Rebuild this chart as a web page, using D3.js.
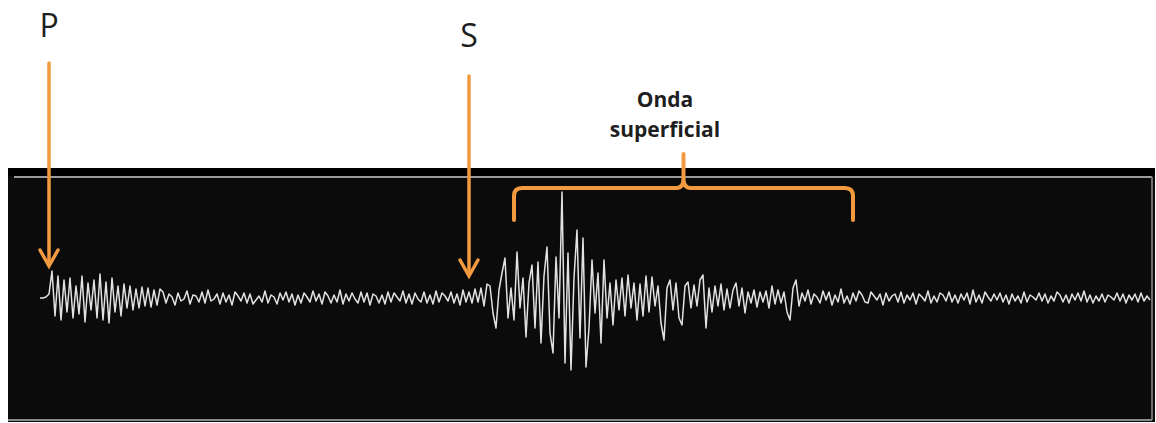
<!DOCTYPE html>
<html>
<head>
<meta charset="utf-8">
<script src="https://cdn.jsdelivr.net/npm/d3@7"></script>
<style>
  html, body { margin: 0; padding: 0; background: #fff; }
  svg { display: block; }
</style>
</head>
<body>
<svg id="chart" width="1156" height="423"></svg>
<script>
// ---- data (amplitude samples, positive = up) ----
const preEvent = [0, 0, 1];
const pCoda = [4, 27, -18, 22, -22, 18, -14, 20, -20, 12,
  -16, 22, -24, 15, -12, 18, -20, 24, -22, 16,
  -25, 20, -14, 12, -18, 14, -10, 12, -12, 9,
  -10, 11, -8, 10, -9, 8, -7, 9];
const noiseBeforeS = [
  6,-5,4,1,-7,5,-3,-1,7,-6,3,2,-4,6,-5,8,-3,-1,4,-6,
  5,-4,3,-7,6,2,-3,5,-5,4,-6,-2,2,-4,7,-5,3,1,-6,5,
  -2,6,-4,4,-7,3,-5,5,1,-4,7,-3,4,-6,6,2,-5,3,-4,8,
  -6,4,-3,5,-1,-5,6,-4,5,-7,4,2,-5,3,-6,6,-4,5,1,-3,
  7,-5,4,-6,5,-1,-4,6,-5,3,-6,7,-4,5,2,-3,6,-5,4,-7,8,-4];
const sOnset = [6, -5, 9, -4, 10, -8, 14];
const surfaceWave = [12, -15, -30, 8, 25, 40, -20, 10, -22, 46,
  -10, 20, -39, 15, 33, -30, 36, -45, 22, 51,
  -35, -55, 41, -20, 106, -65, 45, -72, 20, 68,
  -40, 60, -69, -30, 38, -15, 25, -45, 38, -20,
  15, -27, 18, -12, 20, -18, 23, -10, 15, -22, 14];
const surfaceCoda = [-18, 22, -14, 21, -8, 12, -25, -42, 10, 18,
  -12, 15, -20, -27, 12, 16, -10, 13, -8, 18,
  23, -30, 10, -14, 12, -8, 14, -12, 9, -10,
  8, 15, -8, 10, -15, 6, -5, 8, -9, 6,
  -4, 7, -10, 12, -6, 8, -5, 6, -14, -22,
  10, 18, -8];
const tail = [
  5,-3,8,-6,4,1,-5,7,-2,6,-7,3,-4,9,-5,2,-6,5,-3,7,
  3,-4,-5,6,2,-2,4,-7,5,-3,2,4,-4,6,-5,3,-2,5,-6,4,
  1,-3,7,-5,2,-4,5,3,-3,6,-4,3,-5,4,-2,5,-6,8,-4,3,
  -5,6,1,-3,4,-2,5,-4,3,-6,4,-3,2,-5,6,-4,3,1,-2,5,
  -3,4,-5,2,-3,6,3,-4,3,-5,4,-2,5,-3,7,-4,3,-5,2,-3,
  4,-4,3,1,-2,5,-3,4,-5,3,-2,4,-4,5,-3,2,-2];
const amplitude = [].concat(preEvent, pCoda, noiseBeforeS, sOnset, surfaceWave, surfaceCoda, tail);

// phase annotations: sample index of each arrival
const phaseLabels = ["P", "S"];
const phaseSamples = [3, 143];
const surfaceLabel = ["Onda", "superficial"];
const surfaceRange = [158, 271]; // sample span covered by bracket

// ---- drawing ----
const svg = d3.select("#chart");
const orange = "#f29a3f";

const x = d3.scaleLinear().domain([0, amplitude.length - 1]).range([40, 1150]);
const y = d3.scaleLinear().domain([-100, 100]).range([398, 198]);

// panel
svg.append("rect").attr("x", 8).attr("y", 168).attr("width", 1147).attr("height", 254)
  .attr("fill", "#0b0b0b");
svg.append("rect").attr("x", 8).attr("y", 168).attr("width", 1147).attr("height", 8)
  .attr("fill", "#000");
svg.append("line").attr("x1", 14).attr("x2", 1152).attr("y1", 177).attr("y2", 177)
  .attr("stroke", "#9c9c9c").attr("stroke-width", 2);
svg.append("line").attr("x1", 1152).attr("x2", 1152).attr("y1", 177).attr("y2", 420)
  .attr("stroke", "#6e6e6e").attr("stroke-width", 2);
svg.append("line").attr("x1", 8).attr("x2", 1152).attr("y1", 420).attr("y2", 420)
  .attr("stroke", "#8a8a8a").attr("stroke-width", 2);

// waveform
const line = d3.line().x((d, i) => x(i)).y(d => y(d)).curve(d3.curveLinear);
svg.append("path").datum(amplitude)
  .attr("d", line)
  .attr("fill", "none")
  .attr("stroke", "#e2e2e2")
  .attr("stroke-width", 1.5)
  .attr("stroke-linejoin", "round");

// arrows
const arrowTop = [63, 76];
const arrowTip = [266, 276];
const labelBase = [37, 47];
phaseLabels.forEach((lab, k) => {
  const px = x(phaseSamples[k]);
  const g = svg.append("g");
  g.append("text").attr("x", px).attr("y", labelBase[k])
    .attr("text-anchor", "middle")
    .attr("font-family", "Open Sans, sans-serif")
    .attr("font-size", 32)
    .attr("fill", "#1e1e1e")
    .text(lab);
  g.append("line").attr("x1", px).attr("x2", px)
    .attr("y1", arrowTop[k]).attr("y2", arrowTip[k] - 1)
    .attr("stroke", orange).attr("stroke-width", 3.5).attr("stroke-linecap", "round");
  g.append("path")
    .attr("d", `M${px - 9},${arrowTip[k] - 16} L${px},${arrowTip[k]} L${px + 9},${arrowTip[k] - 16}`)
    .attr("fill", "none").attr("stroke", orange).attr("stroke-width", 3.5)
    .attr("stroke-linecap", "round").attr("stroke-linejoin", "miter");
});

// bracket for surface wave
const bx0 = x(surfaceRange[0]), bx1 = x(surfaceRange[1]);
const bm = (bx0 + bx1) / 2;
const by = 188, bEnd = 220, bTip = 154;
svg.append("path")
  .attr("d", `M${bx0},${bEnd} V${by + 8} Q${bx0},${by} ${bx0 + 8},${by} H${bm - 7} Q${bm},${by} ${bm},${by - 10} V${bTip} V${by - 10} Q${bm},${by} ${bm + 7},${by} H${bx1 - 8} Q${bx1},${by} ${bx1},${by + 8} V${bEnd}`)
  .attr("fill", "none").attr("stroke", orange).attr("stroke-width", 4)
  .attr("stroke-linecap", "round").attr("stroke-linejoin", "round");

svg.append("text")
  .attr("text-anchor", "middle")
  .attr("font-family", "Open Sans, sans-serif")
  .attr("font-weight", "bold")
  .attr("font-size", 21)
  .attr("fill", "#1e1e1e")
  .selectAll("tspan").data(surfaceLabel).join("tspan")
  .attr("x", 665)
  .attr("y", (d, i) => 107 + i * 30)
  .text(d => d);
</script>
</body>
</html>
